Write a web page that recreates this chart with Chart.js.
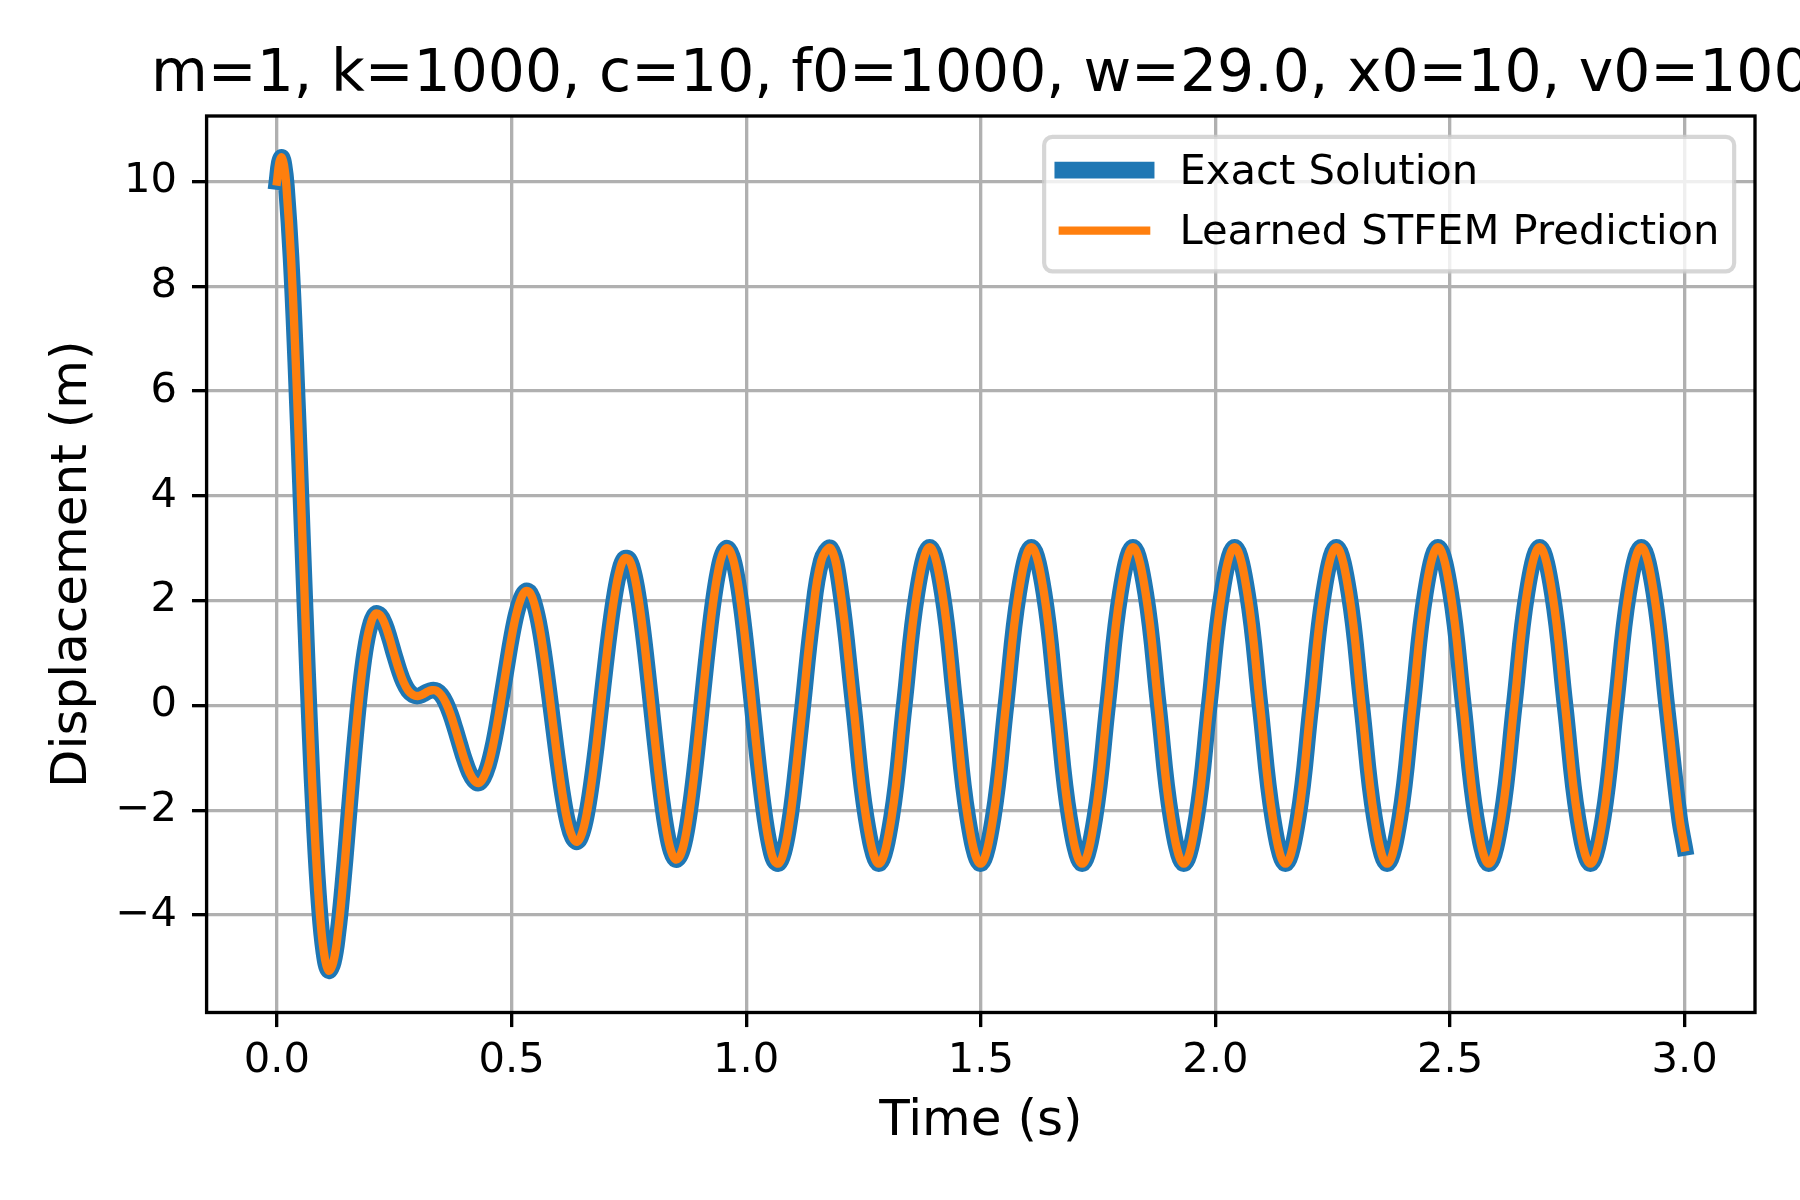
<!DOCTYPE html>
<html>
<head>
<meta charset="utf-8">
<script src="https://cdn.jsdelivr.net/npm/chart.js@4.4.1/dist/chart.umd.min.js"></script>
<style>
  html, body { margin: 0; padding: 0; background: #ffffff; }
  canvas { display: block; }
</style>
</head>
<body>
<canvas id="c" width="1800" height="1200" style="width:1800px;height:1200px"></canvas>
<script>
// ---------------- data ----------------
const chartTitle = 'm=1, k=1000, c=10, f0=1000, w=29.0, x0=10, v0=100';
const xAxisLabel = 'Time (s)';
const yAxisLabel = 'Displacement (m)';
const seriesLabels = ['Exact Solution', 'Learned STFEM Prediction'];
const xTicks = [0, 0.5, 1.0, 1.5, 2.0, 2.5, 3.0];
const yTicks = [-4, -2, 0, 2, 4, 6, 8, 10];

const timeS = [
  0, 0.005, 0.01, 0.015, 0.02,
  0.03, 0.04, 0.05, 0.06, 0.07, 0.08, 0.09, 0.10,
  0.11, 0.12, 0.13, 0.14, 0.15, 0.16, 0.17, 0.18, 0.19, 0.20,
  0.21, 0.22, 0.23, 0.24, 0.25, 0.26, 0.27, 0.28, 0.29, 0.30,
  0.31, 0.32, 0.33, 0.34, 0.35, 0.36, 0.37, 0.38, 0.39, 0.40,
  0.41, 0.42, 0.43, 0.44, 0.45, 0.46, 0.47, 0.48, 0.49, 0.50,
  0.51, 0.52, 0.53, 0.54, 0.55, 0.56, 0.57, 0.58, 0.59, 0.60,
  0.61, 0.62, 0.63, 0.64, 0.65, 0.66, 0.67, 0.68, 0.69, 0.70,
  0.71, 0.72, 0.73, 0.74, 0.75, 0.76, 0.77, 0.78, 0.79, 0.80,
  0.81, 0.82, 0.83, 0.84, 0.85, 0.86, 0.87, 0.88, 0.89, 0.90,
  0.91, 0.92, 0.93, 0.94, 0.95, 0.96, 0.97, 0.98, 0.99, 1.00,
  1.01, 1.02, 1.03, 1.04, 1.05, 1.06, 1.07, 1.08, 1.09, 1.10,
  1.12, 1.14, 1.16, 1.18, 1.20,
  1.2285, 1.2556, 1.2827, 1.3098, 1.3368, 1.3639, 1.3910, 1.4181,
  1.4452, 1.4723, 1.4993, 1.5264, 1.5535, 1.5806, 1.6077, 1.6348,
  1.6618, 1.6889, 1.7160, 1.7431, 1.7702, 1.7973, 1.8243, 1.8514,
  1.8785, 1.9056, 1.9327, 1.9598, 1.9868, 2.0139, 2.0410, 2.0681,
  2.0952, 2.1223, 2.1493, 2.1764, 2.2035, 2.2306, 2.2577, 2.2848,
  2.3118, 2.3389, 2.3660, 2.3931, 2.4202, 2.4473, 2.4743, 2.5014,
  2.5285, 2.5556, 2.5827, 2.6097, 2.6368, 2.6639, 2.6910, 2.7181,
  2.7452, 2.7722, 2.7993, 2.8264, 2.8535, 2.8806, 2.9077, 2.9347,
  2.9618, 2.9889, 3.0
];

const exactDisp = [
  10.00, 10.36, 10.46, 10.31, 9.92,
  8.54, 6.56, 4.24, 1.83, -0.43, -2.35, -3.80, -4.71,
  -5.06, -4.90, -4.33, -3.46, -2.42, -1.34, -0.33, 0.53, 1.17, 1.57,
  1.75, 1.72, 1.55, 1.28, 0.97, 0.68, 0.44, 0.28, 0.20, 0.18,
  0.21, 0.26, 0.29, 0.28, 0.20, 0.05, -0.17, -0.45, -0.75, -1.04,
  -1.28, -1.43, -1.48, -1.38, -1.15, -0.79, -0.32, 0.22, 0.77, 1.30,
  1.74, 2.04, 2.18, 2.14, 1.89, 1.48, 0.91, 0.24, -0.47, -1.16,
  -1.77, -2.24, -2.52, -2.60, -2.44, -2.07, -1.51, -0.82, -0.03, 0.76,
  1.50, 2.12, 2.57, 2.80, 2.79, 2.54, 2.07, 1.42, 0.64, -0.20,
  -1.03, -1.78, -2.38, -2.78, -2.94, -2.85, -2.53, -1.98, -1.27, -0.44,
  0.43, 1.26, 1.99, 2.55, 2.90, 3.00, 2.85, 2.46, 1.86, 1.10,
  0.25, -0.63, -1.45, -2.15, -2.67, -2.97, -3.01, -2.80, -2.36, -1.72,
  -0.06, 1.61, 2.76, 3.00, 2.25,
  0.00, -2.14, -3.02, -2.14, 0.00, 2.14, 3.02, 2.14,
  0.00, -2.14, -3.02, -2.14, 0.00, 2.14, 3.02, 2.14,
  0.00, -2.14, -3.02, -2.14, 0.00, 2.14, 3.02, 2.14,
  0.00, -2.14, -3.02, -2.14, 0.00, 2.14, 3.02, 2.14,
  0.00, -2.14, -3.02, -2.14, 0.00, 2.14, 3.02, 2.14,
  0.00, -2.14, -3.02, -2.14, 0.00, 2.14, 3.02, 2.14,
  0.00, -2.14, -3.02, -2.14, 0.00, 2.14, 3.02, 2.14,
  0.00, -2.14, -3.02, -2.14, 0.00, 2.14, 3.02, 2.14,
  0.00, -2.14, -2.71
];

// The learned prediction lies exactly on top of the exact solution in the picture.
const learnedDisp = exactDisp;

// ---------------- rendering ----------------
const PT = 300 / 72;              // matplotlib points -> pixels at 300 dpi
const FONT = '"DejaVu Sans", "Liberation Sans", sans-serif';
Chart.defaults.font.family = FONT;
Chart.defaults.color = '#000000';

function toPoints(ts, vs) {
  return ts.map((t, i) => ({ x: t, y: vs[i] }));
}

function fmtY(v) {
  return v < 0 ? '\u2212' + Math.abs(v) : String(v);
}

const decorPlugin = {
  id: 'decor',
  afterDraw(chart) {
    const ctx = chart.ctx;
    const ca = chart.chartArea;
    ctx.save();

    // axes frame (all four spines)
    ctx.strokeStyle = '#000000';
    ctx.lineWidth = 0.8 * PT;
    ctx.lineJoin = 'miter';
    ctx.strokeRect(ca.left, ca.top, ca.right - ca.left, ca.bottom - ca.top);

    // title, centred over the axes, baseline 6pt above the top spine
    ctx.fillStyle = '#000000';
    ctx.font = (14 * PT) + 'px ' + FONT;
    ctx.textAlign = 'center';
    ctx.textBaseline = 'alphabetic';
    ctx.fillText(chartTitle, (ca.left + ca.right) / 2, ca.top - 6 * PT);

    // legend (upper right)
    const fs = 10 * PT;
    ctx.font = fs + 'px ' + FONT;
    const tw = Math.max(...seriesLabels.map(s => ctx.measureText(s).width));
    const pad = 0.4 * fs, hl = 2 * fs, htp = 0.8 * fs;
    const w = pad + hl + htp + tw + pad;
    const h = 3.23 * fs;
    const right = ca.right - 0.5 * fs;
    const top = ca.top + 0.5 * fs;
    const left = right - w;
    const r = 0.2 * fs;
    ctx.beginPath();
    ctx.moveTo(left + r, top);
    ctx.lineTo(right - r, top);
    ctx.arcTo(right, top, right, top + r, r);
    ctx.lineTo(right, top + h - r);
    ctx.arcTo(right, top + h, right - r, top + h, r);
    ctx.lineTo(left + r, top + h);
    ctx.arcTo(left, top + h, left, top + h - r, r);
    ctx.lineTo(left, top + r);
    ctx.arcTo(left, top, left + r, top, r);
    ctx.closePath();
    ctx.fillStyle = 'rgba(255,255,255,0.8)';
    ctx.fill();
    ctx.strokeStyle = 'rgba(204,204,204,0.8)';
    ctx.lineWidth = 1.0 * PT;
    ctx.stroke();

    const ds = chart.data.datasets;
    const hx0 = left + pad + 2;
    const hx1 = hx0 + hl;
    for (let i = 0; i < ds.length; i++) {
      const cy = top + 0.8 * fs + i * 1.452 * fs;
      ctx.beginPath();
      ctx.strokeStyle = ds[i].borderColor;
      ctx.lineWidth = ds[i].borderWidth;
      ctx.lineCap = 'square';
      ctx.moveTo(hx0, cy);
      ctx.lineTo(hx1, cy);
      ctx.stroke();
      ctx.fillStyle = '#000000';
      ctx.textAlign = 'left';
      ctx.textBaseline = 'alphabetic';
      ctx.fillText(ds[i].label, hx1 + htp, cy + 0.33 * fs);
    }
    ctx.restore();
  }
};

const lineCommon = {
  pointRadius: 0,
  pointHoverRadius: 0,
  fill: false,
  tension: 0.4,
  borderJoinStyle: 'round',
  borderCapStyle: 'square'
};

new Chart(document.getElementById('c'), {
  type: 'line',
  data: {
    datasets: [
      Object.assign({
        label: seriesLabels[0],
        data: toPoints(timeS, exactDisp),
        borderColor: '#1f77b4',
        backgroundColor: '#1f77b4',
        borderWidth: 4 * PT,
        order: 1
      }, lineCommon),
      Object.assign({
        label: seriesLabels[1],
        data: toPoints(timeS, learnedDisp),
        borderColor: '#ff7f0e',
        backgroundColor: '#ff7f0e',
        borderWidth: 2 * PT,
        order: 0
      }, lineCommon)
    ]
  },
  options: {
    responsive: false,
    maintainAspectRatio: false,
    devicePixelRatio: 1,
    animation: false,
    events: [],
    layout: { padding: { top: 116, right: 45, bottom: 0, left: 0 } },
    plugins: {
      legend: { display: false },
      title: { display: false },
      tooltip: { enabled: false }
    },
    scales: {
      x: {
        type: 'linear',
        position: 'bottom',
        min: -0.15,
        max: 3.15,
        afterFit: s => { s.height = 187.5; },
        afterBuildTicks: s => { s.ticks = xTicks.map(v => ({ value: v })); },
        ticks: {
          callback: v => Number(v).toFixed(1),
          font: { size: 10 * PT },
          color: '#000000',
          padding: 9,
          autoSkip: false,
          maxRotation: 0,
          minRotation: 0
        },
        grid: {
          color: '#b0b0b0',
          lineWidth: 0.8 * PT,
          drawTicks: true,
          tickLength: 3.5 * PT,
          tickColor: '#000000',
          tickWidth: 0.8 * PT
        },
        border: { display: false },
        title: {
          display: true,
          text: xAxisLabel,
          font: { size: 12 * PT },
          color: '#000000',
          padding: { top: 0, bottom: 48 }
        }
      },
      y: {
        type: 'linear',
        position: 'left',
        min: -5.86,
        max: 11.25,
        afterFit: s => { s.width = 206.6; },
        afterBuildTicks: s => { s.ticks = yTicks.map(v => ({ value: v })); },
        ticks: {
          callback: v => fmtY(v),
          font: { size: 10 * PT },
          color: '#000000',
          padding: 15,
          autoSkip: false
        },
        grid: {
          color: '#b0b0b0',
          lineWidth: 0.8 * PT,
          drawTicks: true,
          tickLength: 3.5 * PT,
          tickColor: '#000000',
          tickWidth: 0.8 * PT
        },
        border: { display: false },
        title: {
          display: true,
          text: yAxisLabel,
          font: { size: 12 * PT },
          color: '#000000',
          padding: { top: 43.5, bottom: 0 }
        }
      }
    }
  },
  plugins: [decorPlugin]
});
</script>
</body>
</html>
